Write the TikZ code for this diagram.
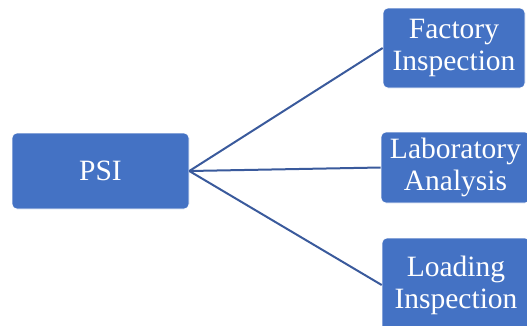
\documentclass[tikz,border=0pt]{standalone}
\usepackage{fontspec}
\setmainfont{Liberation Serif}
\usepackage{tikz}
\usetikzlibrary{positioning}
\definecolor{boxblue}{HTML}{4472C4}
\definecolor{linkblue}{HTML}{3A5A9C}

\begin{document}
\begin{tikzpicture}[x=1pt, y=-1pt, thick,
        box/.style={shape=rectangle, rounded corners=5pt, draw=white, line width=0.6pt, fill=boxblue, text=white, align=center, inner sep=0pt, font=\fontsize{29.5}{32}\selectfont},
        link/.style={draw=linkblue, line width=2pt}]
        \useasboundingbox (0,0) rectangle (527,325);

        % root
        \node (psi) at (100.5,171) [box, minimum width=177pt, minimum height=76pt] {PSI};

        % checks
        \node (factory) at (454,48) [box, minimum width=142pt, minimum height=80pt] {Factory\\Inspection};
        \node (lab) at (455.5,167.5) [box, minimum width=149pt, minimum height=71pt] {Laboratory\\Analysis};
        \node (loading) at (456,285) [box, minimum width=148pt, minimum height=94pt] {Loading\\Inspection};

        % connections
        \draw[link] (psi.east) -- (factory.west);
        \draw[link] (psi.east) -- (lab.west);
        \draw[link] (psi.east) -- (loading.west);
\end{tikzpicture}
\end{document}
